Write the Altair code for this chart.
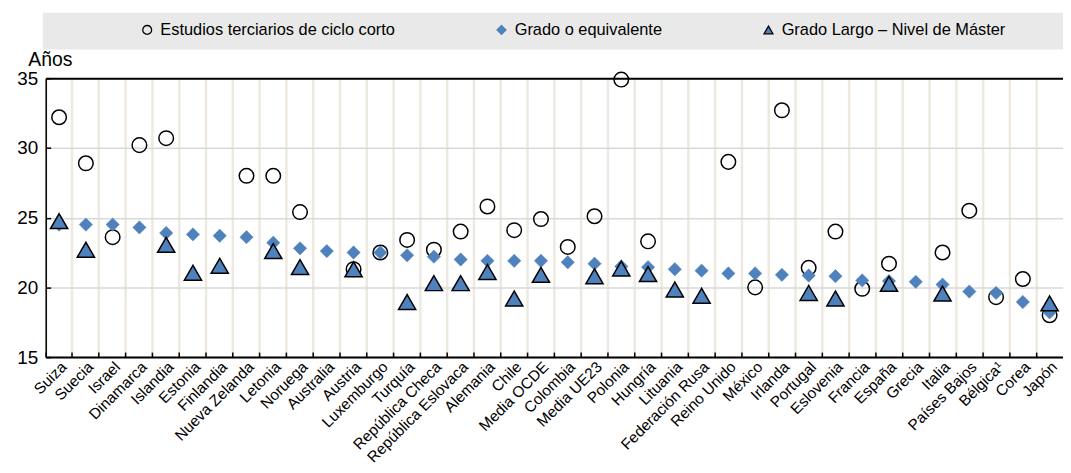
import altair as alt
import pandas as pd

paises = ["Suiza", "Suecia", "Israel", "Dinamarca", "Islandia", "Estonia", "Finlandia",
          "Nueva Zelanda", "Letonia", "Noruega", "Australia", "Austria", "Luxemburgo",
          "Turquía", "República Checa", "República Eslovaca", "Alemania", "Chile",
          "Media OCDE", "Colombia", "Media UE23", "Polonia", "Hungría", "Lituania",
          "Federación Rusa", "Reino Unido", "México", "Irlanda", "Portugal", "Eslovenia",
          "Francia", "España", "Grecia", "Italia", "Países Bajos", "Bélgica¹", "Corea", "Japón"]

ciclo_corto = [32.2, 28.9, 23.6, 30.2, 30.7, None, None, 28.0, 28.0, 25.4, None, 21.3, 22.5,
               23.4, 22.7, 24.0, 25.8, 24.1, 24.9, 22.9, 25.1, 34.9, 23.3, None,
               None, 29.0, 20.0, 32.7, 21.4, 24.0, 19.9, 21.7, None, 22.5, 25.5, 19.3, 20.6, 18.0]

grado = [24.5, 24.5, 24.5, 24.3, 23.9, 23.8, 23.7, 23.6, 23.2, 22.8, 22.6, 22.5, 22.5,
         22.3, 22.2, 22.0, 21.9, 21.9, 21.9, 21.8, 21.7, 21.5, 21.45, 21.3,
         21.2, 21.0, 21.0, 20.9, 20.85, 20.8, 20.5, 20.45, 20.4, 20.2, 19.7, 19.6, 18.95, 18.2]

master = [24.75, 22.7, None, None, 23.05, 21.05, 21.55, None, 22.6, 21.45, None, 21.3, None,
          18.95, 20.3, 20.3, 21.1, 19.2, 20.9, None, 20.8, 21.35, 20.95, 19.85,
          19.4, None, None, None, 19.6, 19.2, None, 20.25, None, 19.55, None, None, None, 18.85]

series = ["Estudios terciarios de ciclo corto", "Grado o equivalente", "Grado Largo – Nivel de Máster"]

BLUE = "#4F81BD"
FONT = "Liberation Sans"
W, H = 1025, 281


def frame(vals, name):
    rows = [{"pais": p, "valor": v, "serie": name} for p, v in zip(paises, vals) if v is not None]
    return pd.DataFrame(rows)


df_c = frame(ciclo_corto, series[0])
df_g = frame(grado, series[1])
df_m = frame(master, series[2])

lg = alt.Legend(title=None, orient="none", legendX=94, legendY=-57, direction="horizontal",
                columnPadding=98, labelFontSize=16.5, labelFont=FONT, labelColor="black",
                labelLimit=400, symbolSize=80, symbolStrokeWidth=1.3, labelOffset=5, padding=0)

shape_enc = alt.Shape("serie:N", scale=alt.Scale(domain=series, range=["circle", "diamond", "triangle-up"]), legend=lg)
fill_enc = alt.Fill("serie:N", scale=alt.Scale(domain=series, range=["transparent", BLUE, BLUE]), legend=lg)
stroke_enc = alt.Stroke("serie:N", scale=alt.Scale(domain=series, range=["black", BLUE, "black"]), legend=lg)

xscale = alt.Scale(type="band", paddingInner=0, paddingOuter=0)
yscale = alt.Scale(domain=[15, 35], nice=False, zero=False)
yvals = [15, 20, 25, 30, 35]

# axes
ax_x_labels = alt.Axis(orient="bottom", labelAngle=-45, labelFontSize=15.5, labelFont=FONT,
                       labelColor="black", ticks=False, grid=False, domain=True,
                       domainColor="black", domainWidth=2, title=None, labelPadding=2,
                       labelOverlap=False, labelLimit=300, labelBound=False)
ax_y_main = alt.Axis(values=yvals, grid=True, gridColor="#D9D9D9", gridWidth=1.5,
                     domainColor="black", domainWidth=1.5, ticks=False, labelFontSize=19,
                     labelFont=FONT, labelColor="black", labelPadding=8,
                     title="Años", titleAngle=0, titleX=-18, titleY=-13, titleAlign="left",
                     titleBaseline="alphabetic", titleFontWeight="normal", titleFontSize=19.5,
                     titleFont=FONT, titleColor="black")
ax_x_grid = alt.Axis(orient="bottom", bandPosition=0, grid=True, gridColor="#EEE9E0",
                     gridWidth=2.5, ticks=False, labels=False, domain=False, title=None)
ax_y_ticks = alt.Axis(orient="right", offset=-W, values=yvals, ticks=True, tickColor="black",
                      tickSize=5, tickWidth=1.5, labels=False, domain=False, grid=False, title=None)
ax_x_top = alt.Axis(orient="top", domain=True, domainColor="black", domainWidth=2,
                    ticks=False, labels=False, grid=False, title=None)
ax_x_ticks = alt.Axis(orient="top", offset=-H, bandPosition=0, ticks=True, tickColor="black",
                      tickSize=5, tickWidth=1.5, labels=False, domain=False, grid=False, title=None)

band = alt.Chart(pd.DataFrame({"k": [0]})).mark_rect(color="#E9E9E9").encode(
    x=alt.value(-3), x2=alt.value(W), y=alt.value(-66), y2=alt.value(-29))

circ = alt.Chart(df_c).mark_point(filled=True, size=215, strokeWidth=1.5, opacity=1).encode(
    x=alt.X("pais:N", sort=paises, scale=xscale, axis=ax_x_labels),
    y=alt.Y("valor:Q", scale=yscale, axis=ax_y_main),
    shape=shape_enc, fill=fill_enc, stroke=stroke_enc)

diam = alt.Chart(df_g).mark_point(filled=True, size=180, strokeWidth=0.5, opacity=1).encode(
    x=alt.X("pais:N", sort=paises, scale=xscale, axis=ax_x_grid),
    y=alt.Y("valor:Q", scale=yscale, axis=ax_y_ticks),
    shape=shape_enc, fill=fill_enc, stroke=stroke_enc)

tri = alt.Chart(df_m).mark_point(filled=True, size=300, strokeWidth=1.5, opacity=1).encode(
    x=alt.X("pais:N", sort=paises, scale=xscale, axis=ax_x_top),
    y=alt.Y("valor:Q", scale=yscale, axis=None),
    shape=shape_enc, fill=fill_enc, stroke=stroke_enc)

tick_host = alt.Chart(df_g).mark_point(opacity=0).encode(
    x=alt.X("pais:N", sort=paises, scale=xscale, axis=ax_x_ticks),
    y=alt.Y("valor:Q", scale=yscale, axis=None))

chart = alt.layer(band, circ, diam, tri, tick_host).resolve_axis(
    x="independent", y="independent"
).properties(
    width=W, height=H,
    autosize=alt.AutoSizeParams(type="none"),
    padding={"left": 38, "top": 69, "right": 0, "bottom": 107},
).configure_view(
    fill="#F2FDFD", stroke=None
).configure(font=FONT)

chart.save("out.html", embed_options={"renderer": "svg", "actions": False})
